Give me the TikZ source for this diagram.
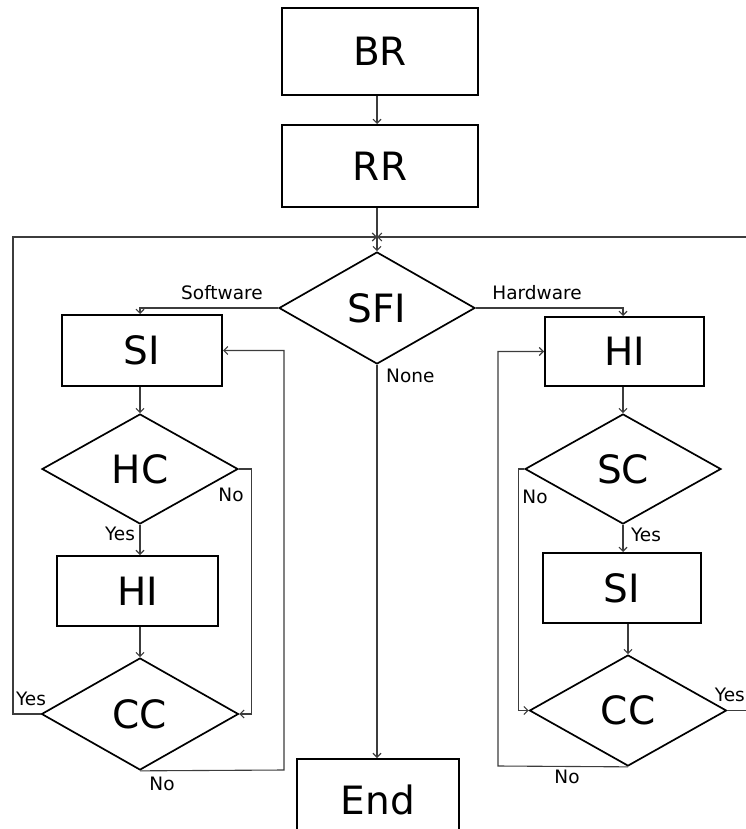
\documentclass[tikz,border=0pt]{standalone}
\usepackage{fontspec}
\setmainfont{DejaVu Sans}
\usetikzlibrary{shapes.geometric,arrows.meta}
\definecolor{linegray}{RGB}{60,60,60}
\begin{document}
\begin{tikzpicture}[x=1pt,y=-1pt,
  box/.style={draw=black,line width=2pt,rectangle,inner sep=0pt,font=\fontsize{39}{39}\selectfont},
  dia/.style={draw=black,line width=1.7pt,diamond,inner sep=0pt,minimum width=196pt,minimum height=111pt,font=\fontsize{39}{39}\selectfont},
  conn/.style={draw=linegray,line width=1.1pt},
  arr/.style={conn,-{Straight Barb[length=4pt,width=8pt]}},
  lbl/.style={font=\fontsize{18.5}{18.5}\selectfont,inner sep=0pt}
]
\useasboundingbox (0,0) rectangle (746,829);
\clip (0,0) rectangle (746,829);

% nodes
\node[box,minimum width=196pt,minimum height=87pt] (br) at (380,51.5) {BR};
\node[box,minimum width=196pt,minimum height=82pt] (rr) at (380,166) {RR};
\node[dia,minimum height=112pt] (sfi) at (377,308) {SFI};
\node[box,minimum width=160pt,minimum height=71pt] (si1) at (142,350.5) {SI};
\node[dia,minimum height=110pt] (hc) at (140,469) {HC};
\node[box,minimum width=161pt,minimum height=70pt] (hi1) at (137.5,591) {HI};
\node[dia,minimum width=197pt,minimum height=112pt] (cc1) at (140,714) {CC};
\node[box,minimum width=159pt,minimum height=69pt] (hi2) at (624.5,351.5) {HI};
\node[dia,minimum height=110pt] (sc) at (623,469) {SC};
\node[box,minimum width=158pt,minimum height=70pt] (si2) at (622,588) {SI};
\node[dia,minimum width=197pt,minimum height=111pt] (cc2) at (628,710.5) {CC};
\node[box,minimum width=162pt,minimum height=82pt] (end) at (378,800) {End};

\coordinate (j) at (377,237);
\coordinate (lc) at (13,237);
\coordinate (rc) at (752,237);

% top chain
\draw[arr] (br.south -| j) -- (rr.north -| j);
\draw[conn] (rr.south -| j) -- (j);
\draw[arr] (j) -- (sfi.north);

% outer loops
\draw[arr] (cc1.west) -| (lc) -- (j);
\draw[arr] (cc2.east) -| (rc) -- (j);

% SFI branches
\draw[arr] (sfi.west) -| (hc.north |- si1.north);
\draw[arr] (sfi.east) -| (sc.north |- hi2.north);
\draw[arr] (sfi.south) -- (sfi.south |- end.north);

% left column
\draw[arr] (hc.north |- si1.south) -- (hc.north);
\draw[arr] (hc.south) -- (hc.south |- hi1.north);
\draw[arr] (hc.east) -- ++(13,0) |- (cc1.east);
\draw[arr] (cc1.north |- hi1.south) -- (cc1.north);
\draw[arr] (cc1.south) -- (284,770) |- (si1.east);

% right column
\draw[arr] (sc.north |- hi2.south) -- (sc.north);
\draw[arr] (sc.south) -- (sc.south |- si2.north);
\draw[arr] (sc.west) -- ++(-6,0) |- (cc2.west);
\draw[arr] (cc2.north |- si2.south) -- (cc2.north);
\draw[arr] (cc2.south) -- (498,766) |- (hi2.west);

% labels
\node[lbl] (lsw) at (222,293) {Software};
\node[lbl] (lhw) at (537,293) {Hardware};
\node[lbl,anchor=west] (lnone) at (386,375.5) {None};
\node[lbl] (lhcno) at (231,495) {No};
\node[lbl] (lhcyes) at (120,534) {Yes};
\node[lbl] (lcc1yes) at (31,699) {Yes};
\node[lbl] (lcc1no) at (162,784) {No};
\node[lbl] (lscno) at (535,497) {No};
\node[lbl] (lscyes) at (646,535) {Yes};
\node[lbl] (lcc2no) at (567,777) {No};
\node[lbl,anchor=east] (lcc2yes) at (745,694.5) {Yes};
\end{tikzpicture}
\end{document}
